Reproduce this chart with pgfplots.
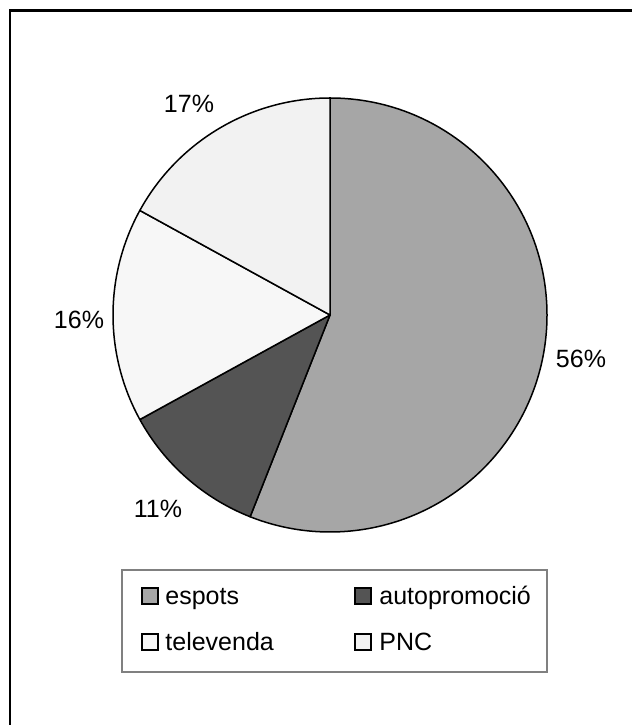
\documentclass[border=0pt]{standalone}
\usepackage{fontspec}
\setmainfont{Liberation Sans}
\usepackage{pgfplots}
\usepackage{pgfplotstable}
\pgfplotsset{compat=1.18}
\definecolor{cEsp}{HTML}{A6A6A6}
\definecolor{cAuto}{HTML}{545454}
\definecolor{cTele}{HTML}{F7F7F7}
\definecolor{cPNC}{HTML}{F2F2F2}
\definecolor{cLeg}{HTML}{808080}
\pgfplotstableread{
value
56
11
16
17
}\piedata
\begin{document}
\begin{tikzpicture}
\pgfplotstablegetelem{0}{value}\of\piedata\pgfmathsetmacro\vA{\pgfplotsretval}
\pgfplotstablegetelem{1}{value}\of\piedata\pgfmathsetmacro\vB{\pgfplotsretval}
\pgfplotstablegetelem{2}{value}\of\piedata\pgfmathsetmacro\vC{\pgfplotsretval}
\pgfplotstablegetelem{3}{value}\of\piedata\pgfmathsetmacro\vD{\pgfplotsretval}
\pgfmathsetmacro\aA{90}
\pgfmathsetmacro\aB{\aA-3.6*\vA}
\pgfmathsetmacro\aC{\aB-3.6*\vB}
\pgfmathsetmacro\aD{\aC-3.6*\vC}
\pgfmathsetmacro\aE{\aD-3.6*\vD}
\begin{axis}[
  scale only axis, width=317pt, height=363.5pt,
  xmin=0, xmax=634, ymin=0, ymax=727,
  hide axis, clip=false,
]
% outer frame (only left and top edges visible)
\draw[black, line width=1.25pt] (axis cs:10,2) -- (axis cs:10,716.5) -- (axis cs:632,716.5);
% pie slices
\filldraw[fill=cEsp, draw=black, line width=0.75pt, line join=round]
  (axis cs:330,412) -- ++(\aA:108.5pt) arc[start angle=\aA, end angle=\aB, radius=108.5pt] -- cycle;
\filldraw[fill=cAuto, draw=black, line width=0.75pt, line join=round]
  (axis cs:330,412) -- ++(\aB:108.5pt) arc[start angle=\aB, end angle=\aC, radius=108.5pt] -- cycle;
\filldraw[fill=cTele, draw=black, line width=0.75pt, line join=round]
  (axis cs:330,412) -- ++(\aC:108.5pt) arc[start angle=\aC, end angle=\aD, radius=108.5pt] -- cycle;
\filldraw[fill=cPNC, draw=black, line width=0.75pt, line join=round]
  (axis cs:330,412) -- ++(\aD:108.5pt) arc[start angle=\aD, end angle=\aE, radius=108.5pt] -- cycle;
% labels
\begin{scope}[every node/.style={font=\fontsize{12.5}{15}\selectfont, inner sep=0pt}]
\node at (axis cs:581,368) {56\%};
\node at (axis cs:158,218) {11\%};
\node at (axis cs:79,407) {16\%};
\node at (axis cs:189,623) {17\%};
% legend
\draw[cLeg, line width=0.6pt] (axis cs:122,157) rectangle (axis cs:547,55);
\filldraw[fill=cEsp, draw=black, line width=0.75pt] (axis cs:142,123) rectangle (axis cs:158,139);
\node[anchor=base west] at (axis cs:165,122) {espots};
\filldraw[fill=cAuto, draw=black, line width=0.75pt] (axis cs:355,123) rectangle (axis cs:371,139);
\node[anchor=base west] at (axis cs:379,122) {autopromoció};
\filldraw[fill=cTele, draw=black, line width=0.75pt] (axis cs:142,77) rectangle (axis cs:158,93);
\node[anchor=base west] at (axis cs:165,76) {televenda};
\filldraw[fill=cPNC, draw=black, line width=0.75pt] (axis cs:355,77) rectangle (axis cs:371,93);
\node[anchor=base west] at (axis cs:379,76) {PNC};
\end{scope}
\end{axis}
\pgfresetboundingbox
\useasboundingbox (0,0) rectangle (317pt,363.5pt);
\end{tikzpicture}
\end{document}
